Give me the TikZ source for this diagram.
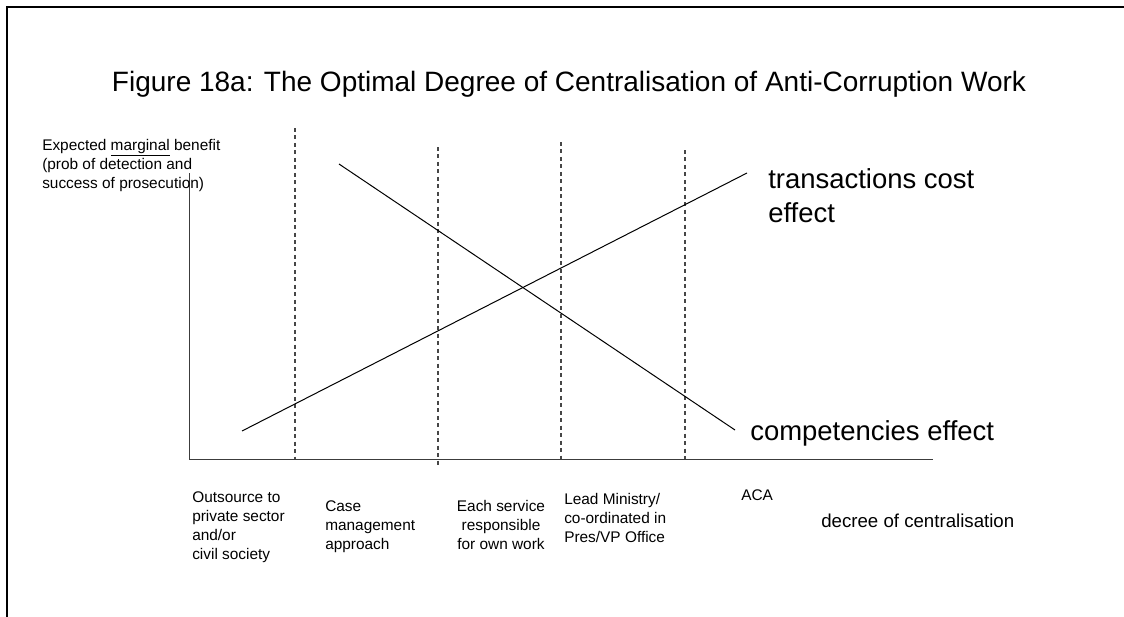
\documentclass[tikz,border=0pt]{standalone}
\usepackage{fontspec}
\setmainfont{Liberation Sans}
\usepackage{tikz}

\begin{document}
\begin{tikzpicture}[x=0.75pt,y=0.75pt,yscale=-1,xscale=1,
  divider/.style={color={rgb, 255:red, 70; green, 70; blue, 70 }, line width=0.85, dash pattern=on 3pt off 2.6pt},
  smalltext/.style={font=\fontsize{11.55}{14.4}\selectfont, inner sep=0pt},
  bigtext/.style={font=\fontsize{20.6}{25.5}\selectfont, inner sep=0pt}]
\useasboundingbox (0,0) rectangle (1124,617);
%frame
\draw [line width=1.5]   (1124,7) -- (7,7) -- (7,617) ;
%axes
\draw [color={rgb, 255:red, 60; green, 60; blue, 60 }, line width=0.75]   (189,173) -- (189,459) -- (933,459) ;
%dividers
\draw [divider]   (295,128) -- (295,459) ;
\draw [divider]   (438,147) -- (438,468) ;
\draw [divider]   (561,142) -- (561,459) ;
\draw [divider]   (685,150) -- (685,459) ;
%curves
\draw [line width=0.75]   (242,431) -- (747,173) ;
\draw [line width=0.75]   (339,164) -- (735,430) ;
%labels
\draw (569,91) node [anchor=base, font=\fontsize{21}{25}\selectfont, inner sep=0pt] (title) {Figure 18a: The Optimal Degree of Centralisation of Anti-Corruption Work};
\draw (42,139) node [anchor=north west, smalltext, align=left] (ylabel) {Expected \underline{marginal} benefit\\(prob of detection and\\success of prosecution)};
\draw (768,168) node [anchor=north west, bigtext, align=left] (tcost) {transactions cost\\effect};
\draw (750,440) node [anchor=base west, bigtext] (comp) {competencies effect};
\draw (192,491) node [anchor=north west, smalltext, align=left] (outsource) {Outsource to\\private sector\\and/or\\civil society};
\draw (325,500) node [anchor=north west, smalltext, align=left] (casemgmt) {Case\\management\\approach};
\draw (501,500) node [anchor=north, smalltext, align=center] (eachsvc) {Each service\\responsible\\for own work};
\draw (564,493) node [anchor=north west, smalltext, align=left] (leadmin) {Lead Ministry/\\co-ordinated in\\Pres/VP Office};
\draw (741,489.5) node [anchor=north west, smalltext] (aca) {ACA};
\draw (821,527) node [anchor=base west, font=\fontsize{14}{17}\selectfont, inner sep=0pt] (xlabel) {decree of centralisation};
\end{tikzpicture}
\end{document}
